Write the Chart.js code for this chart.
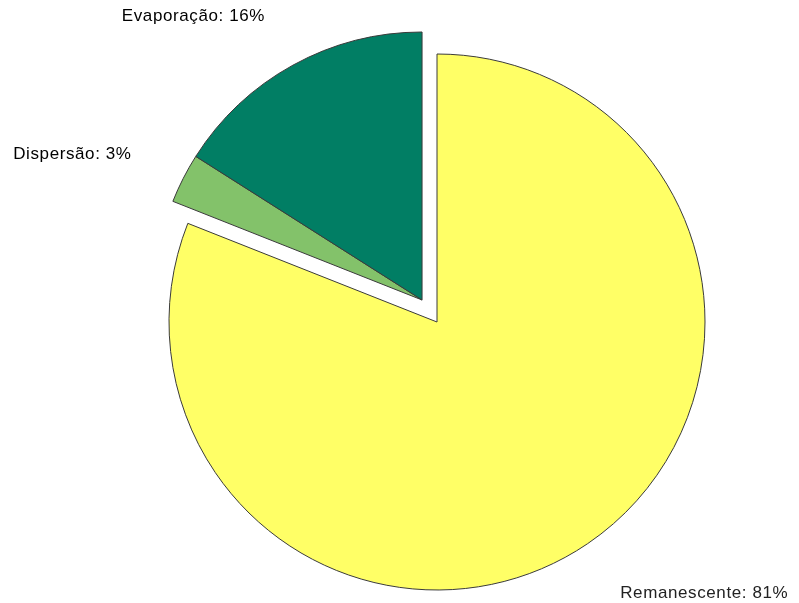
<!DOCTYPE html>
<html lang="pt">
<head>
<meta charset="utf-8">
<title>Destino do óleo</title>
<script src="https://cdn.jsdelivr.net/npm/chart.js@4/dist/chart.umd.min.js"></script>
<style>
  html, body { margin: 0; padding: 0; background: #ffffff; }
  #wrap { width: 799px; height: 603px; }
</style>
</head>
<body>
<div id="wrap"><canvas id="pie" width="799" height="603"></canvas></div>
<script>
// Categories and their shares (%)
const categories = ['Remanescente', 'Dispersão', 'Evaporação'];
const shares = [81, 3, 16];
// Slices pulled out of the pie together
const explodedGroup = ['Dispersão', 'Evaporação'];

const sliceColors = ['#FFFF66', '#83C26A', '#017E64'];
const EXPLODE_DIST = 26.6;
const LABEL_GAP = 58;

// Moves the exploded slices outward as one group, along the group's middle angle
const explodePlugin = {
  id: 'groupExplode',
  afterDatasetsUpdate(chart) {
    const meta = chart.getDatasetMeta(0);
    const idx = explodedGroup.map(n => categories.indexOf(n));
    const arcs = idx.map(i => meta.data[i]);
    const start = Math.min(...arcs.map(a => a.startAngle));
    const end = Math.max(...arcs.map(a => a.endAngle));
    const mid = (start + end) / 2;
    const dx = Math.cos(mid) * EXPLODE_DIST;
    const dy = Math.sin(mid) * EXPLODE_DIST;
    arcs.forEach(a => { a.x += dx; a.y += dy; });
  }
};

// Outside labels "Categoria: N%"
const labelPlugin = {
  id: 'outsideLabels',
  afterDatasetsDraw(chart) {
    const ctx = chart.ctx;
    const meta = chart.getDatasetMeta(0);
    ctx.save();
    ctx.font = '17px "Liberation Sans", Arial, sans-serif';
    ctx.letterSpacing = '0.6px';
    ctx.textBaseline = 'middle';
    meta.data.forEach((arc, i) => {
      const mid = (arc.startAngle + arc.endAngle) / 2;
      const r = arc.outerRadius + LABEL_GAP;
      const x = arc.x + Math.cos(mid) * r;
      const y = arc.y + Math.sin(mid) * r + 2;
      ctx.textAlign = Math.cos(mid) < 0 ? 'right' : 'left';
      ctx.fillStyle = i === 0 ? '#222222' : '#000000';
      ctx.fillText(categories[i] + ': ' + shares[i] + '%', x, y);
    });
    ctx.restore();
  }
};

new Chart(document.getElementById('pie'), {
  type: 'pie',
  data: {
    labels: categories,
    datasets: [{
      data: shares,
      backgroundColor: sliceColors,
      borderColor: '#3a3a3a',
      borderWidth: 1
    }]
  },
  options: {
    responsive: false,
    animation: false,
    radius: 268,
    layout: { padding: { left: 75, top: 41, right: 0, bottom: 0 } },
    plugins: {
      legend: { display: false },
      tooltip: { enabled: false }
    }
  },
  plugins: [explodePlugin, labelPlugin]
});
</script>
</body>
</html>
